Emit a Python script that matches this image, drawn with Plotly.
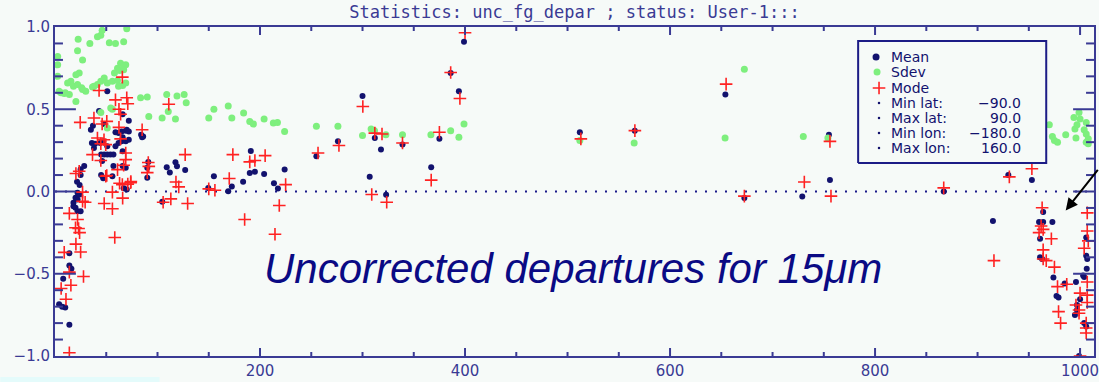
import plotly.graph_objects as go

# ---- data: per-channel statistics of uncorrected first-guess departures ----
mean_x = [4, 7, 10, 8, 14, 16, 14, 14,
          18, 20, 22, 25, 18, 20, 22, 22, 24, 24, 21.5, 25, 25, 28.5,
          51, 43, 37, 35, 48, 66, 72, 70,
          59, 62, 65, 69, 72, 84, 86,
          36, 39, 44, 47, 51, 38,
          59, 62, 65, 69, 72, 66,
          45, 48, 51, 54, 57, 66,
          46, 57, 66, 69, 45, 47, 56, 67, 70,
          85, 91, 90, 90, 109, 112, 117.5, 119, 127, 104.6, 155, 149.5, 169, 172.5,
          183.5, 191, 190, 195, 204, 213.6, 217.5, 224, 255, 276, 300, 307, 312, 318,
          323, 339, 367, 375, 386, 394, 399, 512, 565.6, 654, 672.5, 729, 755, 756,
          867, 930, 953, 915,
          964, 960, 964, 973, 961, 961, 963, 974, 985, 996, 977, 979, 1000, 997, 997,
          995, 1004, 1006, 1006, 1006, 1007, 1006.5, 1003, 1004, 999]
mean_y = [-0.685, -0.70, -0.705, -0.53, -0.45, -0.47, -0.375, -0.81,
          -0.089, -0.099, -0.12, -0.12, -0.069, -0.038, -0.049, -0.008, -0.018, 0.04, 0.06, 0.10, 0.135, 0.155,
          0.61, 0.49, 0.40, 0.375, 0.41, 0.47, 0.43, 0.375,
          0.36, 0.355, 0.365, 0.37, 0.365, 0.345, 0.335,
          0.295, 0.29, 0.295, 0.305, 0.275, 0.265,
          0.275, 0.295, 0.305, 0.305, 0.315, 0.33,
          0.225, 0.225, 0.225, 0.225, 0.225, 0.245,
          0.185, 0.155, 0.155, 0.145, 0.10, 0.08, 0.093, 0.02, 0.012,
          0.33, 0.18, 0.145, 0.083, 0.147, 0.115, 0.178, 0.153, 0.13, -0.063, 0.093, 0.022, 0.002, 0.03,
          0.059, 0.246, 0.113, 0.12, 0.107, 0.05, 0.018, 0.133, 0.214, 0.305, 0.58, 0.09, 0.325, 0.255,
          -0.02, 0.285, 0.148, 0.32, 0.72, 0.61, 0.91, 0.36, 0.37, 0.59, -0.04, -0.03, 0.345, 0.07,
          0.0, 0.10, 0.07, -0.18,
          -0.125, -0.185, -0.185, -0.185, -0.287, -0.40, -0.41, -0.523, -0.56, -0.55, -0.635, -0.645, -0.655, -0.69, -0.72,
          -0.75, -0.80, -0.82, -0.28, -0.39, -0.41, -0.47, -0.51, -0.52, -1.0]

sdev_x = [70, 46, 44.7, 41.4, 34, 53, 59, 67, 22, 22.6, 2.6, 26.9, 2.6, 64, 69, 61, 67,
          23.6, 20.4, 2.6, 48, 44.7, 56, 61, 15.5, 12.3, 38, 41.4, 26.9, 5.8, 9, 14,
          20.4, 83.5, 90, 56, 44.7, 51, 54.4, 18, 22, 26, 4, 10, 58, 63, 67, 69, 62,
          66, 51, 30, 36.6,
          91.5, 104.5, 109, 110.5, 117.5, 119, 126, 128, 150, 155, 169, 172.5, 184, 190,
          193.5, 204, 213, 217, 224, 255, 276, 300, 308.4, 311.7, 322.8, 339, 366.7,
          386, 394, 399, 512, 565, 653.7, 672.5, 730, 754,
          970, 973, 975, 978, 986, 996, 995, 997, 999, 1006, 1004, 1006, 1008, 1006,
          1008, 994, 1000]
sdev_y = [0.99, 0.98, 0.95, 0.94, 0.90, 0.905, 0.90, 0.91, 0.856, 0.925, 0.82, 0.80, 0.77, 0.78, 0.77, 0.75, 0.765,
          0.72, 0.71, 0.70, 0.69, 0.67, 0.67, 0.675, 0.67, 0.66, 0.64, 0.65, 0.62, 0.60, 0.595, 0.59,
          0.547, 0.57, 0.574, 0.50, 0.48, 0.386, 0.507, 0.64, 0.65, 0.63, 0.61, 0.60, 0.72, 0.735, 0.74, 0.66, 0.64,
          0.645, 0.66, 0.61, 0.635,
          0.456, 0.447, 0.59, 0.487, 0.44, 0.58, 0.59, 0.54, 0.447, 0.50, 0.52, 0.447, 0.477, 0.426,
          0.41, 0.44, 0.416, 0.42, 0.365, 0.396, 0.396, 0.34, 0.38, 0.37, 0.345, 0.345, 0.345,
          0.37, 0.33, 0.41, 0.31, 0.295, 0.325, 0.743, 0.335, 0.325,
          0.406, 0.335, 0.31, 0.30, 0.345, 0.325, 0.38, 0.406, 0.48, 0.42, 0.376, 0.35, 0.32, 0.30,
          0.29, 0.45, 0.44]

mode_x = [65.7, 43, 59, 70, 71, 62.4, 38, 50.5, 46, 24.6, 62.4, 64, 85, 41.4, 47.8, 44.7, 49.5,
          64, 36.6, 44.7, 69, 69, 67, 61, 49.5, 20.4, 23.6, 65.7, 73.8, 91, 90, 111, 91.5,
          127, 118, 120.7, 56, 66, 63, 71, 74, 26.9, 50.5, 150, 156, 170, 173.5, 190, 195,
          205, 225, 256.6, 277, 300.3, 312, 319, 309, 26.9, 14, 22, 20, 23, 24, 20.4, 9, 25,
          14, 15.5, 27.8, 6, 10.7, 14, 48, 56, 58.3, 105.5, 113, 129.4, 185, 214.6, 218.8,
          29.4, 323.6, 339, 367, 375, 386, 395, 400, 513, 565.7, 654.7, 672.5, 731, 756, 757,
          867, 931, 953, 916, 963, 962, 964, 960, 972, 964, 964, 967, 975, 978, 987, 979,
          981, 1007, 1007, 1008, 1004, 1007, 1000, 1007, 1007, 996, 999, 999, 1006, 1006,
          1006, 1000]
mode_y = [0.695, 0.614, 0.557, 0.57, 0.533, 0.50, 0.447, 0.426, 0.41, 0.42, 0.39, 0.47, 0.375, 0.325, 0.315, 0.29, 0.285,
          0.32, 0.224, 0.188, 0.234, 0.194, 0.16, 0.133, 0.093, 0.109, 0.123, 0.042, 0.053, 0.176, 0.115, 0.53, 0.153,
          0.224, 0.058, 0.028, -0.004, -0.04, 0.05, 0.045, 0.06, -0.004, 0.097, 0.016, 0.008, 0.079, 0.224, 0.18, 0.188,
          0.218, 0.042, 0.234, 0.28, 0.517, 0.355, 0.35, -0.018, -0.059, -0.133, -0.17, -0.22, -0.225, -0.25, -0.32, -0.37, -0.368,
          -0.49, -0.57, -0.517, -0.59, -0.655, -0.98, -0.073, -0.105, -0.28, -0.065, -0.045, -0.073, -0.17, -0.26, -0.085,
          -0.065, -0.065, 0.295, 0.069, 0.36, 0.723, 0.565, 0.965, 0.32, 0.37, 0.653, -0.028, 0.058, 0.305, -0.028,
          0.022, 0.089, 0.138, -0.42, -0.099, -0.21, -0.23, -0.25, -0.287, -0.355, -0.41, -0.42, -0.46, -0.578, -0.564, -0.73,
          -0.80, -0.13, -0.24, -0.30, -0.345, -0.55, -0.618, -0.63, -0.675, -0.69, -0.72, -0.74, -0.80, -0.83,
          -0.86, -1.0]

# axis tick spacing (major / minor)
x_major_step, x_minor_step = 200, 50
y_major_step, y_minor_step = 0.5, 0.1

legend_series = ["Mean", "Sdev", "Mode"]
legend_info_names = ["Min lat:", "Max lat:", "Min lon:", "Max lon:"]
legend_info_values = ["\u221290.0", "90.0", "\u2212180.0", "160.0"]

title_text = "Statistics: unc_fg_depar ; status: User-1:::"
note_text = "Uncorrected departures for 15\u03bcm"

# ---- styling ----
BG = "#f6faf8"
AXIS = "#3a3a94"
NAVY = "#12126e"
GREEN = "#7eef7e"
RED = "#ff2222"
FONT = "DejaVu Sans"

W, H = 1099, 382
L, R, T, B = 55, 0, 27, 26
pw, ph = W - L - R, H - T - B
X_MAX = pw / 1.03
Y_MIN, Y_MAX = -1.0, 1.0
XPX = X_MAX / pw              # x data units per pixel
YPX = (Y_MAX - Y_MIN) / ph    # y data units per pixel


# pixel -> data helpers used to place the legend panel inside the axes
def dx(p):
    return (p - L) * XPX


def dy(p):
    return Y_MAX - (p - T) * YPX


fig = go.Figure()

fig.add_trace(go.Scatter(x=mean_x, y=mean_y, mode="markers", name="Mean",
                         marker=dict(symbol="circle", size=6, color=NAVY, line=dict(width=0))))
fig.add_trace(go.Scatter(x=sdev_x, y=sdev_y, mode="markers", name="Sdev",
                         marker=dict(symbol="circle", size=7, color=GREEN, line=dict(width=0))))
fig.add_trace(go.Scatter(x=mode_x, y=mode_y, mode="markers", name="Mode",
                         marker=dict(symbol="cross-thin", size=9, color=RED,
                                     line=dict(width=1.6, color=RED))))

# ---- legend panel ----
bx0, bx1, by0, by1 = dx(862), dx(1051), dy(163), dy(41)
fig.add_trace(go.Scatter(x=[bx0, bx1, bx1, bx0, bx0], y=[by0, by0, by1, by1, by0],
                         mode="lines", fill="toself", fillcolor=BG,
                         line=dict(color="#1c1c86", width=2), hoverinfo="skip"))

rows = [57, 72, 88, 103, 118, 133, 148]
fig.add_trace(go.Scatter(x=[dx(880)], y=[dy(rows[0])], mode="markers",
                         marker=dict(symbol="circle", size=7, color=NAVY)))
fig.add_trace(go.Scatter(x=[dx(881)], y=[dy(rows[1])], mode="markers",
                         marker=dict(symbol="circle", size=7, color=GREEN)))
fig.add_trace(go.Scatter(x=[dx(883)], y=[dy(rows[2])], mode="markers",
                         marker=dict(symbol="cross-thin", size=9, color=RED,
                                     line=dict(width=1.6, color=RED))))
fig.add_trace(go.Scatter(x=[dx(883)] * 4, y=[dy(r) for r in rows[3:]], mode="markers",
                         marker=dict(symbol="circle", size=2.5, color=NAVY)))

annotations = []
for name, r in zip(legend_series + legend_info_names, rows):
    annotations.append(dict(x=dx(893), y=dy(r), xref="x", yref="y", text=name,
                            showarrow=False, xanchor="left", yanchor="middle",
                            font=dict(family=FONT, size=14, color=NAVY)))
for val, r in zip(legend_info_values, rows[3:]):
    annotations.append(dict(x=dx(1028), y=dy(r), xref="x", yref="y", text=val,
                            showarrow=False, xanchor="right", yanchor="middle",
                            font=dict(family=FONT, size=14, color=NAVY)))

# large italic caption inside the plot
annotations.append(dict(x=505, y=-0.47, xref="x", yref="y", text="<i>" + note_text + "</i>",
                        showarrow=False, xanchor="center", yanchor="middle",
                        font=dict(family="Liberation Sans", size=42, color="#0a0a84")))

# arrow pointing at the cluster near channel 1000
annotations.append(dict(x=986, y=-0.115, xref="x", yref="y", text="", showarrow=True,
                        ax=40, ay=-42, arrowhead=2, arrowsize=1.2, arrowwidth=2,
                        arrowcolor="#000000"))

shapes = [
    # dotted zero line
    dict(type="line", xref="paper", x0=0, x1=1, yref="y", y0=0, y1=0, layer="below",
         line=dict(color="#1a1a8a", width=2, dash="2px,8px")),
    # light strip along the bottom edge
    dict(type="rect", xref="paper", yref="paper", x0=-L / pw, x1=(160 - L) / pw,
         y0=-B / ph, y1=-(B - 5) / ph, fillcolor="#e4fbfb", line=dict(width=0), layer="below"),
]


# ---- inward tick marks on all four sides (major + minor) ----
def tick(x0, y0, x1, y1):
    shapes.append(dict(type="line", xref="x", yref="y", x0=x0, y0=y0, x1=x1, y1=y1,
                       layer="above", line=dict(color=AXIS, width=2)))


n_y = round((Y_MAX - Y_MIN) / y_minor_step)
for k in range(1, n_y):
    v = Y_MIN + k * y_minor_step
    is_major = abs(v / y_major_step - round(v / y_major_step)) < 1e-6
    ln = (21 if is_major else 8) * XPX
    tick(0, v, ln, v)
    tick(X_MAX, v, X_MAX - ln, v)

n_x = int(X_MAX // x_minor_step)
for k in range(1, n_x + 1):
    v = k * x_minor_step
    ln = (8 if v % x_major_step == 0 else 4) * YPX
    tick(v, Y_MIN, v, Y_MIN + ln)
    tick(v, Y_MAX, v, Y_MAX - ln)

axis_common = dict(showgrid=False, zeroline=False, showline=True, linecolor=AXIS, linewidth=2,
                   mirror=True, ticks="", tickmode="linear", tick0=0,
                   ticklabeloverflow="allow",
                   tickfont=dict(family=FONT, size=15, color=AXIS))

fig.update_layout(
    width=W, height=H,
    margin=dict(l=L, r=R, t=T, b=B, pad=0),
    paper_bgcolor=BG, plot_bgcolor=BG,
    showlegend=False,
    title=dict(text=title_text, x=0.5, xref="paper", xanchor="center",
               y=1 - 12 / H, yref="container", yanchor="middle",
               font=dict(family="DejaVu Sans Mono", size=17, color=AXIS)),
    xaxis=dict(range=[0, X_MAX], dtick=x_major_step, labelalias={"0": " "}, **axis_common),
    yaxis=dict(range=[Y_MIN, Y_MAX], dtick=y_major_step, tickformat=".1f", **axis_common),
    annotations=annotations,
    shapes=shapes,
)

fig.write_html("out.html")
